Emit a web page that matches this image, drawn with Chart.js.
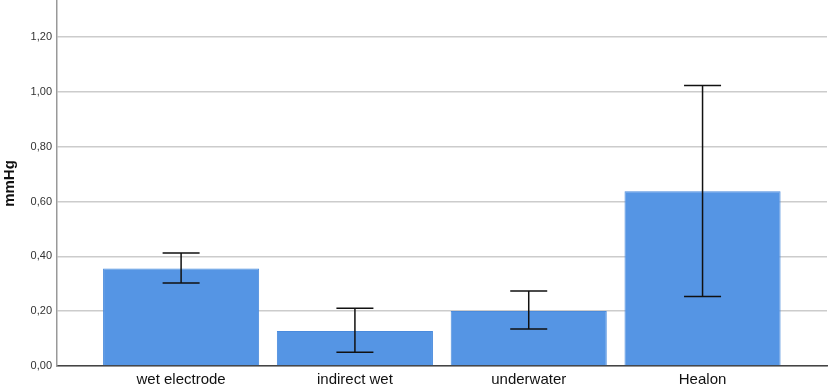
<!DOCTYPE html>
<html>
<head>
<meta charset="utf-8">
<script src="https://cdn.jsdelivr.net/npm/chart.js@4"></script>
<style>
html,body{margin:0;padding:0;background:#fff;}
#wrap{width:829px;height:387px;}
</style>
</head>
<body>
<div id="wrap"><canvas id="c" width="829" height="387"></canvas></div>
<script>
const categories = ["wet electrode", "indirect wet", "underwater", "Healon"];
const means = [0.356, 0.128, 0.201, 0.638];
const errLow = [0.303, 0.050, 0.135, 0.254];
const errHigh = [0.412, 0.211, 0.274, 1.024];
const yTicks = [0, 0.2, 0.4, 0.6, 0.8, 1.0, 1.2];

const errorBars = {
  id: 'errorBars',
  afterDatasetsDraw(chart) {
    const {ctx, scales: {x, y}} = chart;
    ctx.save();
    ctx.strokeStyle = '#111';
    ctx.lineWidth = 1.5;
    for (let i = 0; i < categories.length; i++) {
      const px = x.getPixelForValue(i);
      const yl = y.getPixelForValue(errLow[i]);
      const yh = y.getPixelForValue(errHigh[i]);
      const half = 18.5;
      ctx.beginPath();
      ctx.moveTo(px, yl); ctx.lineTo(px, yh);
      ctx.moveTo(px - half, yl); ctx.lineTo(px + half, yl);
      ctx.moveTo(px - half, yh); ctx.lineTo(px + half, yh);
      ctx.stroke();
    }
    ctx.restore();
  }
};

new Chart(document.getElementById('c'), {
  type: 'bar',
  data: {
    datasets: [{
      data: categories.map((c, i) => ({x: i, y: means[i]})),
      backgroundColor: '#5595E4',
      borderColor: '#4A8BDD',
      borderWidth: 1,
      categoryPercentage: 1,
      barPercentage: 0.898
    }]
  },
  options: {
    responsive: false,
    animation: false,
    layout: {padding: {left: 0, right: 2, top: 1, bottom: 0}},
    plugins: {legend: {display: false}, tooltip: {enabled: false}},
    scales: {
      x: {
        type: 'linear',
        min: -0.714,
        max: 3.716,
        offset: false,
        afterBuildTicks(scale) { scale.ticks = categories.map((c, i) => ({value: i})); },
        afterFit(scale) { scale.height = 21; scale.paddingLeft = 0; scale.paddingRight = 0; },
        grid: {display: false, drawTicks: false},
        border: {color: '#444', width: 1.5},
        ticks: {
          callback: (v) => categories[v] ?? '',
          color: '#111',
          font: {family: 'Liberation Sans', size: 15},
          padding: 5,
          maxRotation: 0,
          autoSkip: false
        }
      },
      y: {
        min: 0,
        max: 1.332,
        afterBuildTicks(scale) { scale.ticks = yTicks.map(v => ({value: v})); },
        afterFit(scale) { scale.width = 57; scale.paddingTop = 0; scale.paddingBottom = 0; },
        grid: {color: '#cccccc', lineWidth: 1.5, drawTicks: false},
        border: {color: '#999', width: 1.5},
        ticks: {
          callback: (v) => v.toFixed(2).replace('.', ','),
          color: '#333',
          font: {family: 'Liberation Sans', size: 11},
          padding: 5
        },
        title: {
          display: true,
          text: 'mmHg',
          color: '#111',
          font: {family: 'Liberation Sans', size: 15, weight: 'bold'},
          padding: {top: 1, bottom: 0}
        }
      }
    }
  },
  plugins: [errorBars]
});
</script>
</body>
</html>
